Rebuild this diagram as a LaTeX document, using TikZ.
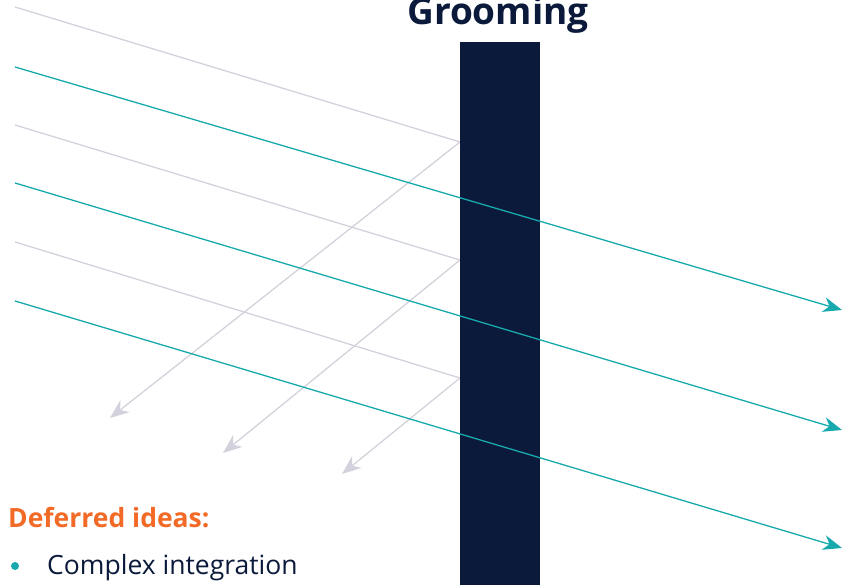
\documentclass[tikz,border=0pt]{standalone}
\usepackage{fontspec}
\setmainfont{Open Sans}
\usetikzlibrary{arrows.meta}
\definecolor{navyblue}{HTML}{0B1A3B}
\definecolor{rayteal}{HTML}{17A9AB}
\definecolor{raygray}{HTML}{D3D2DC}
\definecolor{deforange}{HTML}{F26A26}
\tikzset{
  tip/.style={-{Stealth[length=19pt,width=15pt,inset=6pt]}},
  passed/.style={rayteal, line width=1.3pt, tip},
  blocked/.style={raygray, line width=1.3pt},
  bounced/.style={raygray, line width=1.3pt, tip},
}
\begin{document}
\begin{tikzpicture}[x=1pt,y=-1pt]
      \useasboundingbox (0,0) rectangle (842,585);
      \draw
        (15,7) coordinate (g1)
        (15,125) coordinate (g2)
        (15,242) coordinate (g3)
        (460,142) coordinate (h1)
        (460,260) coordinate (h2)
        (460,378) coordinate (h3)
        (110,418) coordinate (b1)
        (223,453) coordinate (b2)
        (342,474) coordinate (b3)
        (15,67) coordinate (t1)
        (15,183) coordinate (t2)
        (15,301) coordinate (t3)
        (842,310) coordinate (e1)
        (842,430) coordinate (e2)
        (842,548) coordinate (e3);
      % rays stopped by the wall
      \begin{scope}[blocked]
        \draw (g1) to (h1);
        \draw (g2) to (h2);
        \draw (g3) to (h3);
      \end{scope}
      \begin{scope}[bounced]
        \draw (h1) to (b1);
        \draw (h2) to (b2);
        \draw (h3) to (b3);
      \end{scope}
      \node[fill=navyblue, inner sep=0pt, minimum width=80pt, minimum height=543pt,
        anchor=north west] (wall) at (460,42) {};
      \node[anchor=base, text=navyblue, font=\bfseries\fontsize{37}{40}\selectfont]
        (title) at (498,25) {Grooming};
      % rays passing through
      \begin{scope}[passed]
        \draw (t1) to (e1);
        \draw (t2) to (e2);
        \draw (t3) to (e3);
      \end{scope}
      \node[anchor=base west, inner sep=0pt, text=deforange,
        font=\bfseries\fontsize{26.5}{28}\selectfont] (deferred) at (8,527) {Deferred ideas:};
      \node[circle, fill=rayteal, inner sep=0pt, minimum size=8pt] (dot) at (15,566) {};
      \node[anchor=base west, inner sep=0pt, text=navyblue,
        font=\fontsize{26.5}{28}\selectfont] (idea) at (47,574) {Complex integration};
    \end{tikzpicture}
\end{document}
